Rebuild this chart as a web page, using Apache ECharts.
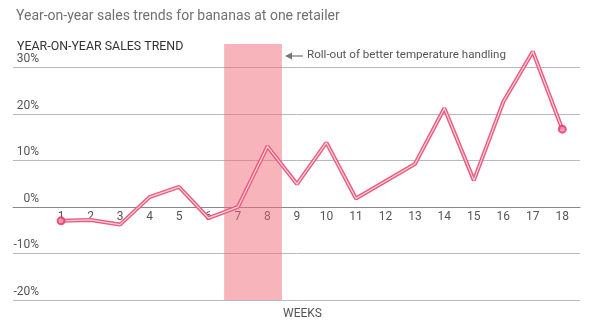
<!DOCTYPE html>
<html><head><meta charset="utf-8">
<script src="https://cdn.jsdelivr.net/npm/echarts@6/dist/echarts.min.js"></script>
<style>html,body{margin:0;padding:0;background:#fff}#c{width:600px;height:322px}</style>
</head><body><div id="c"></div>
<script>
const weeks = [1,2,3,4,5,6,7,8,9,10,11,12,13,14,15,16,17,18];
const salesTrend = [-3.0,-2.8,-3.8,2.1,4.3,-2.4,0.0,13.0,4.9,13.8,1.8,5.5,9.2,21.2,5.7,22.6,33.4,16.7];
const yTicks = [-20,-10,0,10,20,30];
const rolloutWeeks = [6.53, 8.49];
const titleText = 'Year-on-year sales trends for bananas at one retailer';
const yTitle = 'YEAR-ON-YEAR SALES TREND';
const xTitle = 'WEEKS';
const note = 'Roll-out of better temperature handling';

const pts = weeks.map((w,i)=>[w, salesTrend[i]]);
const ends = [pts[0], pts[pts.length-1]];
const FONT = 'Roboto';
const X_MIN = -0.63, X_MAX = 18.6, Y_MIN = -20, Y_MAX = 35;
// plot: y from 44 (35%) to 300 (-20%); zero line at 44 + 35/55*256
const TOP = 44, BOTTOM = 22, H = 322 - TOP - BOTTOM;
const zeroH = Math.round(H * Y_MAX / (Y_MAX - Y_MIN));

const chart = echarts.init(document.getElementById('c'), null, {renderer:'canvas'});
chart.setOption({
  animation:false,
  textStyle:{fontFamily:FONT},
  title:[
    {text:titleText,left:11,top:4,textStyle:{fontFamily:FONT,fontSize:14,fontWeight:'normal',color:'#707070'}},
    {text:yTitle,left:12,top:36,textStyle:{fontFamily:FONT,fontSize:12.4,fontWeight:'normal',color:'#333'}},
    {text:xTitle,left:278,top:303,textStyle:{fontFamily:FONT,fontSize:12,fontWeight:'normal',color:'#555'}}
  ],
  grid:[
    {left:13,right:20,top:TOP,bottom:BOTTOM,containLabel:false},
    {left:13,right:20,top:TOP,height:zeroH,containLabel:false}
  ],
  xAxis:[
    {type:'value',gridIndex:0,min:X_MIN,max:X_MAX,show:false},
    {type:'value',gridIndex:1,min:X_MIN,max:X_MAX,position:'bottom',
      axisLine:{show:true,onZero:false,lineStyle:{color:'#888',width:1}},
      axisTick:{show:false},splitLine:{show:false},
      axisLabel:{customValues:weeks,color:'#555',fontSize:12,margin:4,fontFamily:FONT}}
  ],
  yAxis:[
    {type:'value',gridIndex:0,min:Y_MIN,max:Y_MAX,interval:10,
      axisLine:{show:false},axisTick:{show:false},
      splitLine:{show:true,showMaxLine:false,lineStyle:{color:'#b9b9b9',width:1}},
      axisLabel:{inside:true,align:'right',verticalAlign:'bottom',margin:26,padding:[0,0,2,0],
        color:'#555',fontSize:12,fontFamily:FONT,
        formatter:v=> yTicks.indexOf(v)>=0 ? v+'%' : ''}},
    {type:'value',gridIndex:1,min:0,max:1,show:false}
  ],
  graphic:[
    {type:'line',shape:{x1:288,y1:56,x2:303,y2:56},style:{stroke:'#777',lineWidth:1.2},z:10},
    {type:'polygon',shape:{points:[[285,56],[292,52.5],[292,59.5]]},style:{fill:'#777'},z:10},
    {type:'text',left:307,top:49,style:{text:note,fill:'#555',font:'11.6px '+FONT},z:10}
  ],
  series:[
    {type:'line',data:[],z:1,silent:true,
      markArea:{silent:true,itemStyle:{color:'rgba(240,105,120,0.5)'},
        data:[[{xAxis:rolloutWeeks[0]},{xAxis:rolloutWeeks[1]}]]}},
    {type:'line',data:pts,z:3,symbol:'none',lineStyle:{color:'#ea5b7f',width:4},silent:true},
    {type:'line',data:pts,z:4,symbol:'none',lineStyle:{color:'#fbd3dc',width:1.2},silent:true},
    {type:'scatter',data:ends,z:5,symbol:'circle',symbolSize:7,
      itemStyle:{color:'#f58aa6',borderColor:'#e3336a',borderWidth:2}}
  ]
});
</script></body></html>
